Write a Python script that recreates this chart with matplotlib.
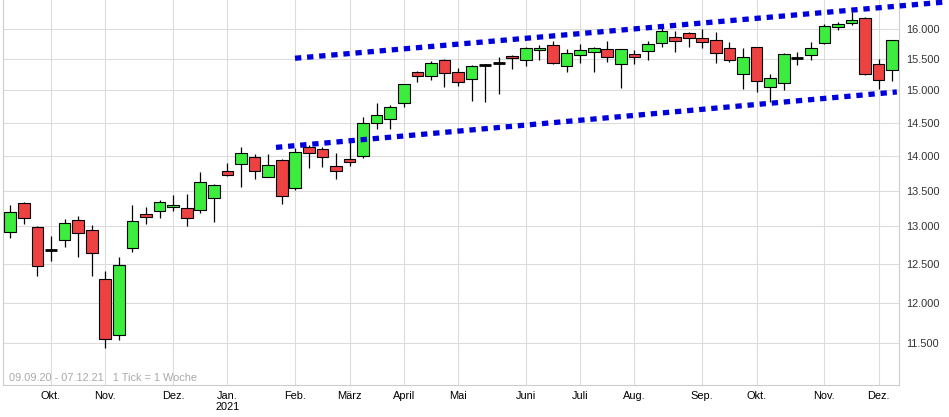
import pandas as pd
import matplotlib
matplotlib.use('Agg')
import matplotlib.pyplot as plt
from matplotlib.ticker import FixedLocator, FuncFormatter, NullLocator

plt.rcParams['font.family'] = ['Liberation Sans', 'DejaVu Sans']

# weekly candles, one per week starting 09.09.2020
first_week = '2020-09-09'

opens = [12920, 13320, 12990, 12678, 12815, 13085, 12950, 12300, 11595, 12710,
         13170, 13215, 13270, 13255, 13225, 13395, 13780, 13880, 13980, 13690,
         13940, 13540, 14140, 14100, 13850, 13950, 13995, 14490, 14550, 14800,
         15290, 15230, 15480, 15285, 15180, 15405, 15430, 15555, 15480, 15645,
         15730, 15390, 15565, 15615, 15665, 15420, 15580, 15630, 15765, 15860,
         15930, 15845, 15815, 15680, 15260, 15695, 15050, 15115, 15520, 15565,
         15765, 16030, 16095, 16180, 15420, 15320]
highs = [13300, 13345, 13010, 12875, 13105, 13145, 13020, 12405, 12590, 13300,
         13265, 13370, 13440, 13450, 13765, 13595, 13895, 14130, 14030, 14030,
         13955, 14120, 14165, 14135, 14040, 14200, 14580, 14805, 14770, 15105,
         15315, 15470, 15500, 15355, 15405, 15425, 15530, 15570, 15695, 15730,
         15800, 15665, 15750, 15695, 15800, 15670, 15650, 15800, 16030, 15960,
         15945, 15995, 15945, 15780, 15680, 15700, 15265, 15605, 15615, 15780,
         16080, 16115, 16285, 16205, 15500, 15815]
lows = [12850, 13030, 12335, 12530, 12720, 12595, 12335, 11445, 11540, 12660,
        13030, 13120, 13220, 13000, 13180, 13060, 13705, 13555, 13665, 13690,
        13305, 13515, 13820, 13845, 13660, 13860, 13965, 14400, 14410, 14745,
        15125, 15170, 15060, 15075, 14840, 14810, 14950, 15340, 15390, 15490,
        15420, 15300, 15445, 15285, 15460, 15035, 15420, 15480, 15695, 15610,
        15695, 15675, 15445, 15450, 15020, 14970, 14825, 15000, 15400, 15480,
        15745, 15980, 16065, 15240, 15020, 15145]
closes = [13200, 13115, 12470, 12678, 13045, 12910, 12640, 11545, 12480, 13070,
          13130, 13335, 13300, 13115, 13620, 13575, 13720, 14040, 13780, 13865,
          13420, 14055, 14040, 13980, 13780, 13905, 14490, 14615, 14740, 15100,
          15225, 15445, 15275, 15130, 15390, 15405, 15430, 15515, 15680, 15680,
          15430, 15600, 15645, 15680, 15530, 15660, 15530, 15745, 15960, 15795,
          15845, 15780, 15600, 15480, 15530, 15145, 15195, 15580, 15520, 15680,
          16045, 16080, 16150, 15260, 15165, 15815]

month_names = ['Jan.', 'Feb.', 'März', 'April', 'Mai', 'Juni', 'Juli', 'Aug.',
               'Sep.', 'Okt.', 'Nov.', 'Dez.']
y_ticks = [11500, 12000, 12500, 13000, 13500, 14000, 14500, 15000, 15500, 16000]

# trend channel (week index, price)
upper_x = [20.98, 68.9]
upper_y = [15515, 16460]
lower_x = [19.58, 65.34]
lower_y = [14127, 14975]

green = '#3ded3d'
red = '#ee4242'

weeks = pd.date_range(first_week, periods=len(opens), freq='7D')
x = list(range(len(opens)))

fig = plt.figure(figsize=(9.49, 4.17), dpi=100)
ax = fig.add_axes([3 / 949, 32 / 417, 896 / 949, 385 / 417])
ax.set_yscale('log')

# candles
width = 0.86
for i in x:
    o, h, l, c = opens[i], highs[i], lows[i], closes[i]
    ax.vlines(i, l, h, color='black', lw=0.9, zorder=2)
    if o == c:
        ax.hlines(o, i - width / 2, i + width / 2, color='black', lw=2.0, zorder=3)
    else:
        ax.bar(i, abs(c - o), bottom=min(o, c), width=width,
               color=green if c > o else red, edgecolor='black', lw=0.8, zorder=3)

# trend channel
ax.plot(upper_x, upper_y, color='#0000dd', lw=3.8, linestyle=(0, (1.2, 1.1)),
        solid_capstyle='butt', dash_capstyle='butt', clip_on=False, zorder=4)
ax.plot(lower_x, lower_y, color='#0000dd', lw=3.8, linestyle=(0, (1.2, 1.1)),
        solid_capstyle='butt', dash_capstyle='butt', clip_on=False, zorder=4)

# month ticks at the week containing the 1st
tick_pos = []
tick_lab = []
for i, w in enumerate(weeks):
    monday = w - pd.Timedelta(days=2)
    sunday = w + pd.Timedelta(days=4)
    for d in pd.date_range(monday, sunday):
        if d.day == 1:
            lab = month_names[d.month - 1]
            if d.month == 1:
                lab += '\n' + str(d.year)
            tick_pos.append(i)
            tick_lab.append(lab)

ax.set_xlim(-0.54, 65.5)
ax.set_ylim(11004, 16495)
ax.xaxis.set_major_locator(FixedLocator(tick_pos))
ax.set_xticklabels(tick_lab)
ax.yaxis.set_major_locator(FixedLocator(y_ticks))
ax.yaxis.set_minor_locator(NullLocator())
ax.yaxis.set_major_formatter(FuncFormatter(lambda v, p: f'{int(round(v)):,}'.replace(',', '.')))
ax.yaxis.tick_right()
ax.tick_params(axis='x', length=0, pad=4, labelsize=7.9, colors='black')
ax.tick_params(axis='y', length=0, pad=5, labelsize=7.9, labelcolor='#333333')

ax.set_axisbelow(True)
ax.grid(True, color='#dcdcdc', lw=0.8)
for s in ['left', 'right', 'bottom']:
    ax.spines[s].set_color('#cccccc')
    ax.spines[s].set_linewidth(0.8)
ax.spines['top'].set_visible(False)

ax.text(0.007, 0.018, '09.09.20 - 07.12.21   1 Tick = 1 Woche', transform=ax.transAxes,
        fontsize=7.9, color='#aaaaaa', va='center', ha='left')

fig.savefig('out.png', dpi=100)
